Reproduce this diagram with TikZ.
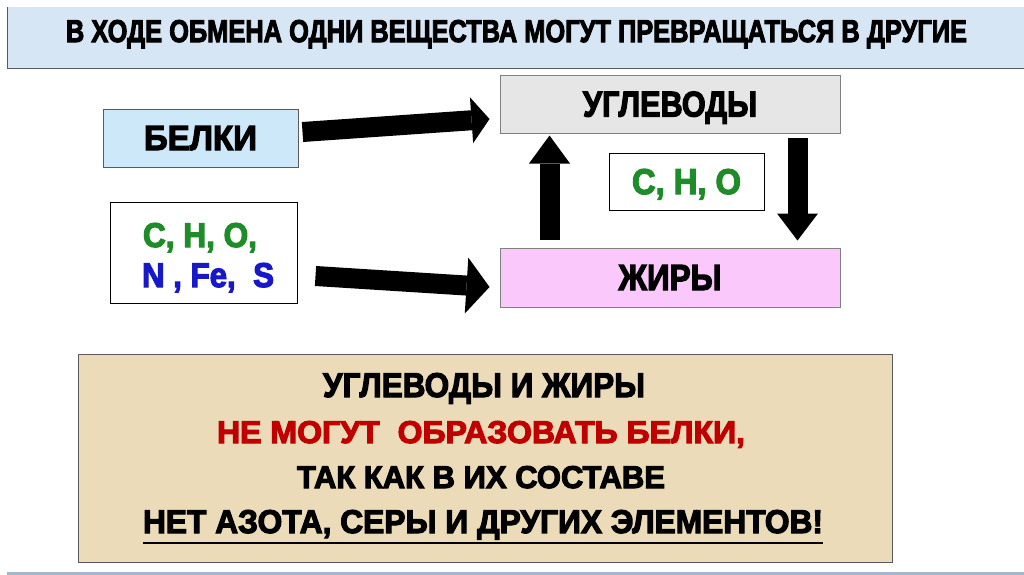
\documentclass[tikz,border=0pt]{standalone}
\usepackage{fontspec}
\setmainfont{Liberation Sans}
\newfontfamily\hb{Liberation Sans}[BoldFeatures={FakeBold=3.5}]
\usepackage{graphicx}
\usetikzlibrary{arrows.meta,calc}
\definecolor{titlefill}{HTML}{D7E6F4}
\definecolor{belkifill}{HTML}{CDE8F8}
\definecolor{uglfill}{HTML}{E6E6E6}
\definecolor{zhfill}{HTML}{FBC8FB}
\definecolor{parch}{HTML}{EBDBB8}
\definecolor{elgreen}{HTML}{1E8C28}
\definecolor{elblue}{HTML}{1818C8}
\definecolor{elred}{HTML}{C00000}
\definecolor{bordergray}{HTML}{5A5A5A}
\definecolor{bottomline}{HTML}{A4B8CC}
\newcommand\fitt[3]{\raisebox{0pt}[\height][0pt]{\resizebox{#1}{#2}{\hb\bfseries #3}}}
\tikzset{
  box/.style={draw, inner sep=0pt, line width=1pt},
  txt/.style={inner sep=0pt, anchor=base},
  fat/.style 2 args={line width=20pt, -{Triangle[length=#1, width=#2, line width=0pt]}},
}
\begin{document}
\begin{tikzpicture}[x=1pt, y=-1pt]
\useasboundingbox (0,0) rectangle (1024,574);
% title bar
\fill[titlefill] (7,7) rectangle (1030,68);
\draw[bordergray, line width=1pt] (7,7) -- (7,68) -- (1030,68);
\node[txt] (title) at (516.5,42) {\fitt{901pt}{22pt}{В ХОДЕ ОБМЕНА ОДНИ ВЕЩЕСТВА МОГУТ ПРЕВРАЩАТЬСЯ В ДРУГИЕ}};
% boxes
\node[box, draw=bordergray, fill=belkifill, minimum width=195pt, minimum height=58pt] (belki) at (200.5,138) {\fitt{113pt}{24pt}{БЕЛКИ}};
\node[box, draw=black, fill=white, minimum width=187pt, minimum height=101pt] (chno) at (203.5,252.5) {};
\node[txt, text=elgreen] (chno1) at (200,247) {\fitt{114pt}{24pt}{C, H, O,}};
\node[txt, text=elblue] (chno2) at (208,287) {\fitt{132pt}{24pt}{N , Fe,\ \ S}};
\node[box, draw=gray, fill=uglfill, minimum width=340pt, minimum height=58pt] (ugl) at (670,104) {\fitt{174pt}{25pt}{УГЛЕВОДЫ}};
\node[box, draw=gray, fill=zhfill, minimum width=340pt, minimum height=59pt] (zh) at (670,277.5) {\fitt{103pt}{25pt}{ЖИРЫ}};
\node[box, draw=black, fill=white, minimum width=155pt, minimum height=57pt] (cho) at (686.5,181.5) {\fitt{109pt}{25pt}{\textcolor{elgreen}{C, H, O}}};
% arrows
\draw[fat={18pt}{46pt}] ($(belki.east)+(4,-6)$) -- ($(ugl.west)+(-10,15)$);
\draw[fat={23pt}{56pt}] ($(chno.east)+(18,23.5)$) -- ($(zh.west)+(-10,9.5)$);
\draw[fat={28pt}{41pt}] ($(zh.north west)+(50,-8)$) -- ($(ugl.south west)+(50,2)$);
\draw[fat={27pt}{41pt}] ($(ugl.south east)+(-43,4)$) -- ($(zh.north east)+(-43,-7)$);
% conclusion
\node[box, draw=bordergray, fill=parch, minimum width=814pt, minimum height=208pt] (concl) at (485,458) {};
\node[txt] (c1) at (484,397) {\fitt{322pt}{24pt}{УГЛЕВОДЫ И ЖИРЫ}};
\node[txt, text=elred] (c2) at (481,443) {\fitt{528pt}{22pt}{НЕ МОГУТ\ \ ОБРАЗОВАТЬ БЕЛКИ,}};
\node[txt] (c3) at (481,488) {\fitt{368pt}{22pt}{ТАК КАК В ИХ СОСТАВЕ}};
\node[txt] (c4) at (483,533) {\fitt{680pt}{23pt}{НЕТ АЗОТА, СЕРЫ И ДРУГИХ ЭЛЕМЕНТОВ!}};
\draw[line width=2pt] ($(c4.base west)+(0,10)$) -- ($(c4.base east)+(0,10)$);
% bottom line
\draw[bottomline, line width=3pt] (7,573) -- (1030,573);
\end{tikzpicture}
\end{document}
